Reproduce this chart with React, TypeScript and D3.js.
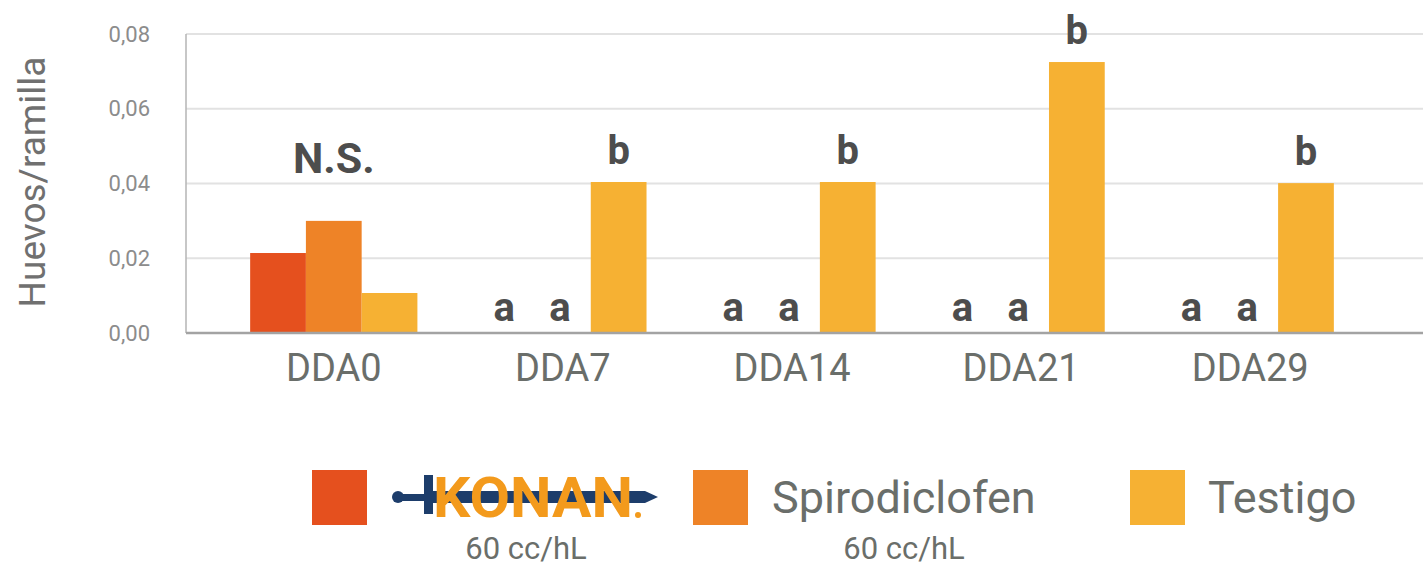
import React from "react";
import * as d3 from "d3";

// data
const categories = ["DDA0", "DDA7", "DDA14", "DDA21", "DDA29"];
const series = ["KONAN", "Spirodiclofen", "Testigo"];
const konanValues = [0.0214, 0, 0, 0, 0];
const spiroValues = [0.03, 0, 0, 0, 0];
const testigoValues = [0.0107, 0.0404, 0.0404, 0.0725, 0.0401];
const konanLetters = ["", "a", "a", "a", "a"];
const spiroLetters = ["", "a", "a", "a", "a"];
const testigoLetters = ["", "b", "b", "b", "b"];
const groupLetters = ["N.S.", "", "", "", ""];
const yTicks = [0, 0.02, 0.04, 0.06, 0.08];
const legendDoses = ["60 cc/hL", "60 cc/hL", ""];

const colors = ["#e5501e", "#ee8327", "#f6b133"];
const FONT = "Roboto, 'DejaVu Sans', sans-serif";

const W = 1423;
const H = 567;

const App: React.FC = () => {
    const values = [konanValues, spiroValues, testigoValues];
    const letters = [konanLetters, spiroLetters, testigoLetters];

    const y = d3.scaleLinear().domain([0, 0.08]).range([333, 34]);
    const x0 = d3.scaleBand<string>().domain(categories).range([186, 1398]).paddingInner(0.27).paddingOuter(0.28);
    const x1 = d3.scaleBand<string>().domain(series).range([0, x0.bandwidth()]);
    const fmt = (v: number) => d3.format(".2f")(v).replace(".", ",");

    // legend layout (square x, text x)
    const legendSquareX = [312, 693, 1130];
    const legendTextX = [0, 772, 1208];
    const doseX = [526, 904, 0];

    return (
        <svg width={W} height={H} style={{ position: "absolute", left: 0, top: 0 }} fontFamily={FONT}>
            <rect width={W} height={H} fill="#fff" />

            {/* gridlines */}
            {yTicks.slice(1).map((t) => (
                <line key={t} x1={186} x2={W} y1={y(t)} y2={y(t)} stroke="#e2e2e2" strokeWidth={2} />
            ))}
            <line x1={186} x2={186} y1={y(0.08)} y2={y(0)} stroke="#b4b4b4" strokeWidth={1.5} />

            {/* y tick labels */}
            {yTicks.map((t) => (
                <text key={t} x={150} y={y(t)} dy="0.35em" textAnchor="end" fontSize={22} fill="#8c8c8c">
                    {fmt(t)}
                </text>
            ))}
            <text transform="translate(45,182) rotate(-90)" textAnchor="middle" fontSize={37} fill="#707070">
                Huevos/ramilla
            </text>

            {/* bars */}
            {categories.map((c, i) => (
                <g key={c} transform={`translate(${x0(c)},0)`}>
                    {series.map((s, j) => (
                        <rect
                            key={s}
                            x={x1(s)}
                            y={y(values[j][i])}
                            width={x1.bandwidth()}
                            height={y(0) - y(values[j][i])}
                            fill={colors[j]}
                        />
                    ))}
                    {series.map((s, j) => (
                        <text
                            key={s}
                            x={(x1(s) ?? 0) + x1.bandwidth() / 2 - (values[j][i] > 0 ? 0 : 3)}
                            y={values[j][i] > 0 ? y(values[j][i]) - 18 : y(0) - 12}
                            textAnchor="middle"
                            fontSize={40}
                            fontWeight="bold"
                            fill="#4d4d4d"
                        >
                            {letters[j][i]}
                        </text>
                    ))}
                    <text
                        x={x0.bandwidth() / 2}
                        y={y(d3.max(values, (v) => v[i]) ?? 0) - 48}
                        textAnchor="middle"
                        fontSize={43}
                        fontWeight="bold"
                        fill="#4d4d4d"
                    >
                        {groupLetters[i]}
                    </text>
                </g>
            ))}

            {/* baseline */}
            <line x1={186} x2={W} y1={y(0)} y2={y(0)} stroke="#a3a3a3" strokeWidth={2.5} />

            {/* category labels */}
            {categories.map((c) => (
                <text key={c} x={(x0(c) ?? 0) + x0.bandwidth() / 2} y={381} textAnchor="middle" fontSize={38} fill="#6a6e6a">
                    {c}
                </text>
            ))}

            {/* legend */}
            {series.map((s, j) => (
                <g key={s}>
                    <rect x={legendSquareX[j]} y={470} width={55} height={55} fill={colors[j]} />
                    {j > 0 && (
                        <text x={legendTextX[j]} y={513} fontSize={45} fill="#6a6e6a">
                            {s}
                        </text>
                    )}
                    {legendDoses[j] && (
                        <text x={doseX[j]} y={559} textAnchor="middle" fontSize={31} fill="#6a6e6a">
                            {legendDoses[j]}
                        </text>
                    )}
                </g>
            ))}

            {/* KONAN logo */}
            <g>
                <circle cx={398} cy={497} r={6} fill="#1d3d6b" />
                <rect x={398} y={494} width={28} height={7} fill="#1d3d6b" />
                <rect x={424} y={475} width={9} height={39} fill="#1d3d6b" />
                <rect x={433} y={491} width={212} height={12} fill="#1d3d6b" />
                <path d="M645,491 L658,497 L645,503 Z" fill="#1d3d6b" />
                <text
                    x={433}
                    y={517}
                    fontSize={56}
                    fontWeight="bold"
                    fill="#f39a1c"
                    textLength={200}
                    lengthAdjust="spacingAndGlyphs"
                >
                    {series[0]}
                </text>
                <circle cx={638} cy={515} r={3} fill="#f39a1c" />
            </g>
        </svg>
    );
};

export default App;
